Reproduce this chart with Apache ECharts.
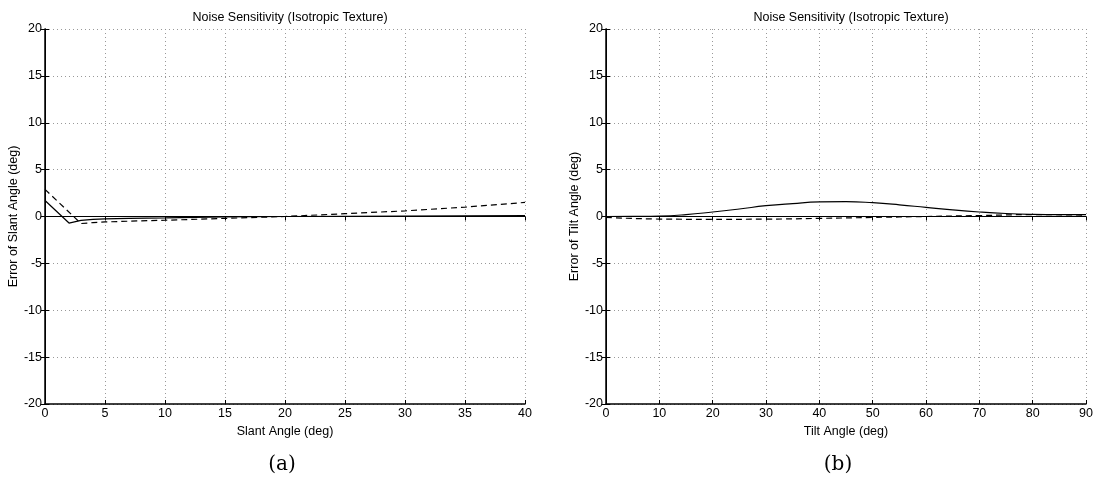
<!DOCTYPE html>
<html>
<head>
<meta charset="utf-8">
<script src="https://cdn.jsdelivr.net/npm/echarts@6/dist/echarts.min.js"></script>
<style>
  html, body { margin: 0; padding: 0; background: #fff; }
  #chart { width: 1098px; height: 480px; }
</style>
</head>
<body>
<div id="chart"></div>
<script>
// (a) slant
var slantSolidX = [0, 2, 3, 4, 5, 7, 10, 15, 20, 25, 30, 35, 40];
var slantSolidY = [1.7, -0.7, -0.42, -0.3, -0.25, -0.2, -0.15, -0.05, 0, 0.02, 0.05, 0.07, 0.1];
var slantDashX = [0, 3, 4, 5, 7, 10, 15, 20, 25, 30, 35, 40];
var slantDashY = [2.9, -0.75, -0.65, -0.58, -0.5, -0.4, -0.2, 0, 0.3, 0.6, 1.0, 1.5];

// (b) tilt
var tiltSolidX = [0, 5, 10, 15, 20, 25, 30, 35, 40, 45, 50, 55, 60, 65, 70, 75, 80, 85, 90];
var tiltSolidY = [0, 0.02, 0.05, 0.2, 0.48, 0.8, 1.15, 1.38, 1.55, 1.58, 1.47, 1.25, 0.97, 0.7, 0.48, 0.32, 0.23, 0.2, 0.2];
var tiltDashX = [0, 10, 20, 30, 40, 50, 60, 70, 80, 90];
var tiltDashY = [-0.1, -0.27, -0.3, -0.28, -0.2, -0.1, 0, 0.1, 0.2, 0.15];

var font = 'Liberation Sans, Arial, sans-serif';
var fs = 12.5;

function pairs(xs, ys) {
    var out = [];
    for (var i = 0; i < xs.length; i++) out.push([xs[i], ys[i]]);
    return out;
}

function xAxes(idx, max, interval, name) {
    return [{
        type: 'value', gridIndex: idx, min: 0, max: max, interval: interval,
        name: name, nameLocation: 'middle', nameGap: 21,
        nameTextStyle: { fontFamily: font, fontSize: fs, color: '#000' },
        axisLine: { show: true, onZero: false, lineStyle: { color: '#000', width: 1.5 } },
        axisTick: { show: true, inside: true, length: 4, lineStyle: { color: '#000' } },
        axisLabel: { fontFamily: font, fontSize: fs, color: '#000', margin: 3 },
        splitLine: { show: true, lineStyle: { color: '#999', type: [1, 3], width: 1 } }
    }, {
        type: 'value', gridIndex: idx, position: 'top', min: 0, max: max, interval: interval,
        axisLine: { show: true, lineStyle: { color: '#000', width: 1 } },
        axisTick: { show: true, inside: true, length: 4, lineStyle: { color: '#000' } },
        axisLabel: { show: false },
        splitLine: { show: false }
    }];
}

function yAxes(idx, name) {
    return [{
        type: 'value', gridIndex: idx, min: -20, max: 20, interval: 5,
        name: name, nameLocation: 'middle', nameGap: 23,
        nameTextStyle: { fontFamily: font, fontSize: fs, color: '#000' },
        axisLine: { show: true, onZero: false, lineStyle: { color: '#000', width: 1.5 } },
        axisTick: { show: true, inside: true, length: 4, lineStyle: { color: '#000' } },
        axisLabel: { fontFamily: font, fontSize: fs, color: '#000', margin: 3 },
        splitLine: { show: true, lineStyle: { color: '#999', type: [1, 3], width: 1 } }
    }, {
        type: 'value', gridIndex: idx, position: 'right', min: -20, max: 20, interval: 5,
        axisLine: { show: true, lineStyle: { color: '#000', width: 1 } },
        axisTick: { show: true, inside: true, length: 4, lineStyle: { color: '#000' } },
        axisLabel: { show: false },
        splitLine: { show: false }
    }];
}

function line(xi, yi, data, dashed, smooth) {
    return {
        type: 'line', xAxisIndex: xi, yAxisIndex: yi, data: data,
        showSymbol: false, smooth: smooth, animation: false,
        lineStyle: { color: '#000', width: 1.2, type: dashed ? [6, 4] : 'solid' }
    };
}

var myChart = echarts.init(document.getElementById('chart'));
var option = {
    backgroundColor: '#fff',
    animation: false,
    title: [
        { text: 'Noise Sensitivity (Isotropic Texture)', left: 285, top: 6, textAlign: 'center',
          textStyle: { fontFamily: font, fontSize: fs, fontWeight: 'normal', color: '#000' } },
        { text: 'Noise Sensitivity (Isotropic Texture)', left: 846, top: 6, textAlign: 'center',
          textStyle: { fontFamily: font, fontSize: fs, fontWeight: 'normal', color: '#000' } },
        { text: '(a)', left: 277, top: 450, textAlign: 'center',
          textStyle: { fontFamily: 'DejaVu Serif, Liberation Serif, serif', fontSize: 20, fontWeight: 'normal', color: '#000' } },
        { text: '(b)', left: 833, top: 450, textAlign: 'center',
          textStyle: { fontFamily: 'DejaVu Serif, Liberation Serif, serif', fontSize: 20, fontWeight: 'normal', color: '#000' } }
    ],
    grid: [
        { left: 45, top: 29, width: 480, height: 375 },
        { left: 606, top: 29, width: 480, height: 375 }
    ],
    xAxis: xAxes(0, 40, 5, 'Slant Angle (deg)').concat(xAxes(1, 90, 10, 'Tilt Angle (deg)')),
    yAxis: yAxes(0, 'Error of Slant Angle (deg)').concat(yAxes(1, 'Error of Tilt Angle (deg)')),
    series: [
        line(0, 0, pairs(slantSolidX, slantSolidY), false, false),
        line(0, 0, pairs(slantDashX, slantDashY), true, false),
        line(2, 2, pairs(tiltSolidX, tiltSolidY), false, true),
        line(2, 2, pairs(tiltDashX, tiltDashY), true, true)
    ]
};
myChart.setOption(option, true);
</script>
</body>
</html>
